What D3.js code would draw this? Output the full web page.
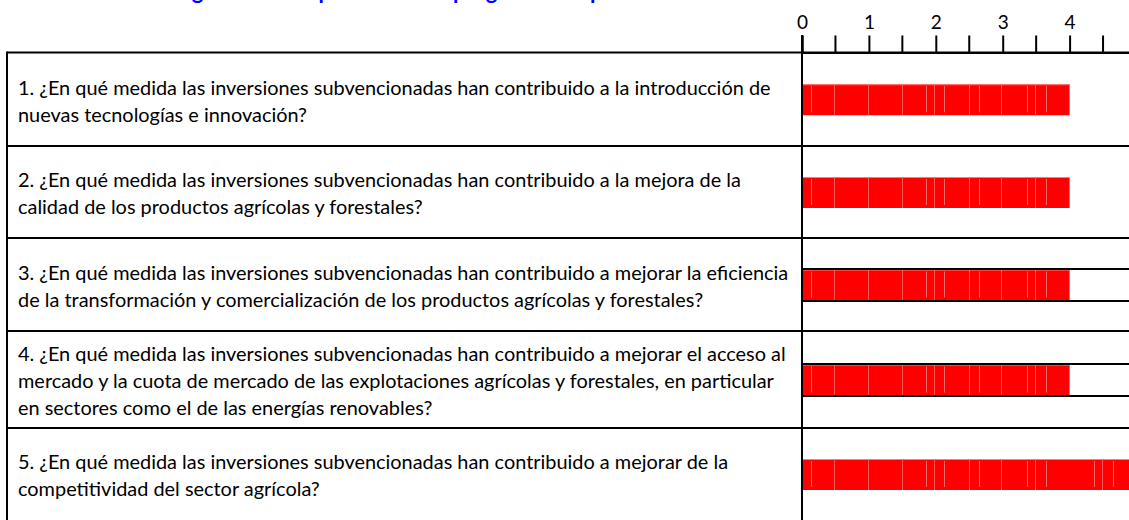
<!DOCTYPE html>
<html>
<head>
<meta charset="utf-8">
<script src="https://cdn.jsdelivr.net/npm/d3@7"></script>
<style>
  html, body { margin: 0; padding: 0; background: #fff; }
  svg { display: block; }
</style>
</head>
<body>
<svg id="chart" width="1129" height="520"></svg>
<script>
// Chart content
const titleText = "Valoración global de la aportación del programa a la productividad";
const questions = [
  ["1. ¿En qué medida las inversiones subvencionadas han contribuido a la introducción de",
   "nuevas tecnologías e innovación?"],
  ["2. ¿En qué medida las inversiones subvencionadas han contribuido a la mejora de la",
   "calidad de los productos agrícolas y forestales?"],
  ["3. ¿En qué medida las inversiones subvencionadas han contribuido a mejorar la eficiencia",
   "de la transformación y comercialización de los productos agrícolas y forestales?"],
  ["4. ¿En qué medida las inversiones subvencionadas han contribuido a mejorar el acceso al",
   "mercado y la cuota de mercado de las explotaciones agrícolas y forestales, en particular",
   "en sectores como el de las energías renovables?"],
  ["5. ¿En qué medida las inversiones subvencionadas han contribuido a mejorar de la",
   "competitividad del sector agrícola?"]
];
const scores = [4, 4, 4, 4, 5];
const tickValues = [0, 1, 2, 3, 4, 5];
const halfTickValues = [0.5, 1.5, 2.5, 3.5, 4.5];
// seams visible inside the bar fill
const seamFull = [0.48, 0.98, 1.49, 1.98, 2.49, 2.98, 3.49, 4.49];
const seamShort = [0.13, 1.86, 2.13, 2.64, 3.37, 3.64, 4.37, 4.65];

const svg = d3.select("#chart");
const W = 1129, H = 520;
const tableLeft = 7, divider = 802, tableTop = 52.5;
const rowEdges = [52.5, 146, 238, 331, 428, 520];

const x = d3.scaleLinear().domain([0, 5]).range([divider, divider + 5 * 66.9]);

const font = "Lato, 'Open Sans', sans-serif";

// title (runs off the top edge)
svg.append("text")
  .attr("x", 83).attr("y", -1)
  .attr("font-family", font).attr("font-weight", "bold")
  .attr("font-size", 22).attr("fill", "#0000ff")
  .text(titleText);

// bars
const bandH = 31;
const rows = svg.append("g");
scores.forEach((v, i) => {
  const cy = (rowEdges[i] + rowEdges[i + 1]) / 2 + 0.5;
  const y0 = cy - bandH / 2;
  const g = rows.append("g");
  g.append("rect")
    .attr("x", x(0)).attr("y", y0)
    .attr("width", x(v) - x(0)).attr("height", bandH)
    .attr("fill", "#ff0000");
  g.append("line")
    .attr("x1", x(0)).attr("x2", x(v))
    .attr("y1", y0 + 0.5).attr("y2", y0 + 0.5)
    .attr("stroke", "#ff7a7a").attr("stroke-width", 1);
  g.selectAll("line.full").data(seamFull.filter(s => s < v)).join("line")
    .attr("class", "full")
    .attr("x1", d => Math.round(x(d)) + 0.5).attr("x2", d => Math.round(x(d)) + 0.5)
    .attr("y1", y0).attr("y2", y0 + bandH)
    .attr("stroke", "#ff5a5a").attr("stroke-width", 1);
  g.selectAll("line.short").data(seamShort.filter(s => s < v)).join("line")
    .attr("class", "short")
    .attr("x1", d => Math.round(x(d)) + 0.5).attr("x2", d => Math.round(x(d)) + 0.5)
    .attr("y1", y0 + 2).attr("y2", y0 + bandH - 3)
    .attr("stroke", "#ff6a6a").attr("stroke-width", 1);
  // rows 3 and 4 carry a frame above and below the bar
  if (i === 2 || i === 3) {
    [y0 - 0.5, y0 + bandH + 0.5].forEach(yy => {
      g.append("line")
        .attr("x1", divider).attr("x2", W)
        .attr("y1", yy).attr("y2", yy)
        .attr("stroke", "#000").attr("stroke-width", 2);
    });
  }
});

// table grid
const grid = svg.append("g").attr("stroke", "#000").attr("stroke-width", 2);
rowEdges.slice(0, 5).forEach(yy => {
  grid.append("line").attr("x1", tableLeft).attr("x2", W).attr("y1", yy).attr("y2", yy);
});
grid.append("line").attr("x1", tableLeft).attr("x2", tableLeft).attr("y1", tableTop - 1).attr("y2", H);
grid.append("line").attr("x1", divider).attr("x2", divider).attr("y1", 35).attr("y2", H);

// top axis
const axis = d3.axisTop(x).tickValues(tickValues).tickSize(17).tickPadding(7)
  .tickFormat(d3.format("d"));
const ax = svg.append("g").attr("transform", `translate(0,${tableTop})`).call(axis);
ax.select(".domain").attr("stroke", "#000").attr("stroke-width", 2);
ax.selectAll(".tick line").attr("stroke", "#000").attr("stroke-width", 2);
ax.selectAll(".tick text").attr("font-family", font).attr("font-size", 19).attr("fill", "#000");
ax.selectAll("line.half").data(halfTickValues).join("line")
  .attr("class", "half")
  .attr("x1", d => x(d)).attr("x2", d => x(d))
  .attr("y1", 0).attr("y2", -17)
  .attr("stroke", "#000").attr("stroke-width", 2);

// question text, sized so the first line spans its measured width
const probe = svg.append("text").attr("font-family", font).attr("font-size", 16).text(questions[0][0]);
const w16 = probe.node().getComputedTextLength();
probe.remove();
const fs = 16 * 753 / w16;
const lineGap = 27;
questions.forEach((lines, i) => {
  const cy = (rowEdges[i] + rowEdges[i + 1]) / 2 + 2;
  const firstY = cy - (lines.length - 1) * lineGap / 2;
  const t = svg.append("text")
    .attr("font-family", font).attr("font-size", fs).attr("fill", "#000");
  lines.forEach((ln, j) => {
    t.append("tspan").attr("x", 18).attr("y", firstY + j * lineGap)
      .attr("dy", "0.35em").text(ln);
  });
});
</script>
</body>
</html>
